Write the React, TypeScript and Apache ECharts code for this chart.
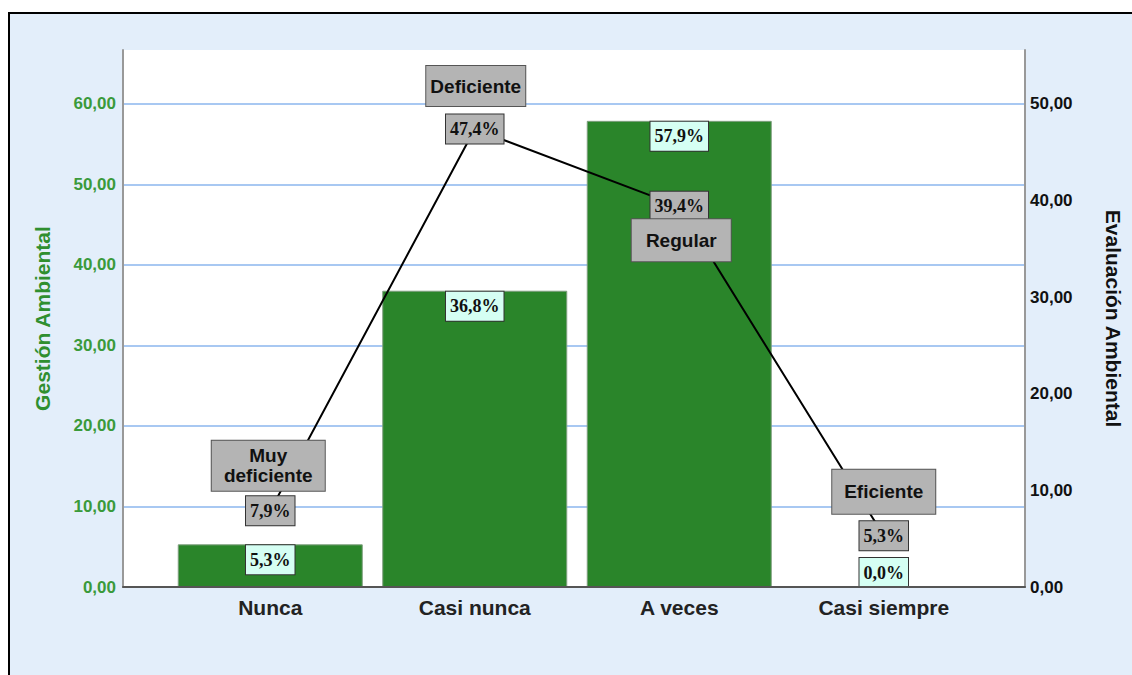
import React, { useEffect, useRef } from "react";
import * as echarts from "echarts";

const categories = ["Nunca", "Casi nunca", "A veces", "Casi siempre"];
const gestionValues = [5.3, 36.8, 57.9, 0.0];
const evaluacionValues = [7.9, 47.4, 39.4, 5.3];
const evaluacionLevels = ["Muy\ndeficiente", "Deficiente", "Regular", "Eficiente"];
const leftAxisMax = 66.7;
const rightAxisMax = 55.58;
const tickInterval = 10;

const fmtTick = (v: number) => v.toFixed(2).replace(".", ",");
const fmtPct = (v: number) => v.toFixed(1).replace(".", ",") + "%";

const levelLabelStyles = [
  { width: 113, lineHeight: 20, padding: [5, 0], offset: [-2, -45] },
  { width: 99, lineHeight: 40, padding: [0, 0], offset: [1, -43] },
  { width: 99, lineHeight: 42, padding: [0, 0], offset: [2, 34] },
  { width: 103, lineHeight: 44, padding: [0, 0], offset: [0, -44] },
];

export default function App() {
  const ref = useRef<HTMLDivElement>(null);

  useEffect(() => {
    if (!ref.current) return;
    const chart = echarts.init(ref.current, undefined, { renderer: "svg" });

    const pctLabelBase = {
      show: true,
      formatter: (p: any) => fmtPct(p.value),
      fontFamily: "Liberation Serif",
      fontWeight: "bold" as const,
      fontSize: 18,
      lineHeight: 19,
      padding: [5, 4],
      color: "#111",
      borderColor: "#333",
      borderWidth: 1,
    };

    chart.setOption({
      animation: false,
      textStyle: { fontFamily: "Liberation Sans" },
      grid: [
        {
          left: 123,
          right: 100,
          top: 50,
          bottom: 88,
          show: true,
          backgroundColor: "#ffffff",
          borderWidth: 0,
        },
        { left: 168, right: 146, top: 50, bottom: 88 },
      ],
      xAxis: [
        {
          gridIndex: 0,
          type: "value",
          min: 0,
          max: 1,
          position: "bottom",
          axisLine: { show: true, onZero: false, lineStyle: { color: "#555", width: 2 } },
          axisTick: { show: false },
          axisLabel: { show: false },
          splitLine: { show: false },
          z: 5,
        },
        {
          gridIndex: 1,
          type: "category",
          data: categories,
          axisLine: { show: false },
          axisTick: { show: false },
          axisLabel: {
            fontSize: 21,
            fontWeight: "bold",
            color: "#222",
            margin: 10,
            fontFamily: "Liberation Sans",
          },
        },
      ],
      yAxis: [
        {
          gridIndex: 0,
          type: "value",
          position: "left",
          min: 0,
          max: leftAxisMax,
          interval: tickInterval,
          name: "Gestión Ambiental",
          nameLocation: "middle",
          nameGap: 70,
          nameRotate: 90,
          nameTextStyle: {
            color: "#2f8f2f",
            fontWeight: "bold",
            fontSize: 21,
            fontFamily: "Liberation Sans",
          },
          axisLine: { show: true, lineStyle: { color: "#999", width: 2 } },
          axisTick: { show: false },
          axisLabel: {
            formatter: fmtTick,
            color: "#3a9a3a",
            fontWeight: "bold",
            fontSize: 17,
            margin: 7,
            showMaxLabel: false,
          },
          splitLine: {
            show: true,
            showMinLine: false,
            showMaxLine: false,
            lineStyle: { color: "#a8c8f2", width: 2 },
          },
        },
        {
          gridIndex: 0,
          type: "value",
          position: "right",
          min: 0,
          max: rightAxisMax,
          interval: tickInterval,
          name: "Evaluación Ambiental",
          nameLocation: "middle",
          nameGap: 78,
          nameRotate: -90,
          nameTextStyle: {
            color: "#111",
            fontWeight: "bold",
            fontSize: 21,
            fontFamily: "Liberation Sans",
          },
          axisLine: { show: true, lineStyle: { color: "#999", width: 2 } },
          axisTick: { show: false },
          axisLabel: {
            formatter: fmtTick,
            color: "#111",
            fontWeight: "bold",
            fontSize: 17,
            margin: 5,
            showMaxLabel: false,
          },
          splitLine: { show: false },
        },
        { gridIndex: 1, type: "value", min: 0, max: leftAxisMax, show: false },
        { gridIndex: 1, type: "value", min: 0, max: rightAxisMax, show: false },
      ],
      series: [
        {
          type: "bar",
          xAxisIndex: 1,
          yAxisIndex: 2,
          barWidth: 185,
          itemStyle: { color: "#2a852a", borderColor: "#7f9f7f", borderWidth: 1 },
          data: gestionValues.map((v) => ({
            value: v,
            itemStyle: v === 0 ? { borderWidth: 0 } : undefined,
            label:
              v === 0
                ? { position: "insideBottom", distance: 0 }
                : { position: "insideTop", distance: 1 },
          })),
          label: { ...pctLabelBase, backgroundColor: "#d5fff3" },
          z: 2,
        },
        {
          type: "line",
          xAxisIndex: 1,
          yAxisIndex: 3,
          data: evaluacionValues,
          symbol: "circle",
          symbolSize: 0,
          itemStyle: { color: "#000" },
          lineStyle: { color: "#000", width: 2 },
          label: { ...pctLabelBase, position: "inside", backgroundColor: "#b4b4b4" },
          z: 3,
        },
        {
          type: "scatter",
          xAxisIndex: 1,
          yAxisIndex: 3,
          symbolSize: 0,
          itemStyle: { color: "transparent", opacity: 1 },
          data: evaluacionValues.map((v, i) => ({
            value: v,
            label: {
              formatter: evaluacionLevels[i],
              width: levelLabelStyles[i].width,
              lineHeight: levelLabelStyles[i].lineHeight,
              padding: levelLabelStyles[i].padding,
              offset: levelLabelStyles[i].offset,
            },
          })),
          label: {
            show: true,
            position: "inside",
            align: "center",
            verticalAlign: "middle",
            fontFamily: "Liberation Sans",
            fontWeight: "bold",
            fontSize: 19,
            color: "#111",
            backgroundColor: "#b4b4b4",
            borderColor: "#555",
            borderWidth: 1,
            opacity: 1,
          },
          z: 4,
        },
      ],
    });

    return () => chart.dispose();
  }, []);

  return (
    <div
      style={{
        position: "absolute",
        left: 0,
        top: 0,
        width: 1132,
        height: 675,
        background: "#ffffff",
        overflow: "hidden",
      }}
    >
      <div
        style={{
          position: "absolute",
          left: 8,
          top: 12,
          width: 1200,
          height: 700,
          background: "#e3eefa",
          borderTop: "2px solid #000",
          borderLeft: "2px solid #000",
        }}
      />
      <div
        ref={ref}
        style={{ position: "absolute", left: 0, top: 0, width: 1132, height: 675 }}
      />
    </div>
  );
}
